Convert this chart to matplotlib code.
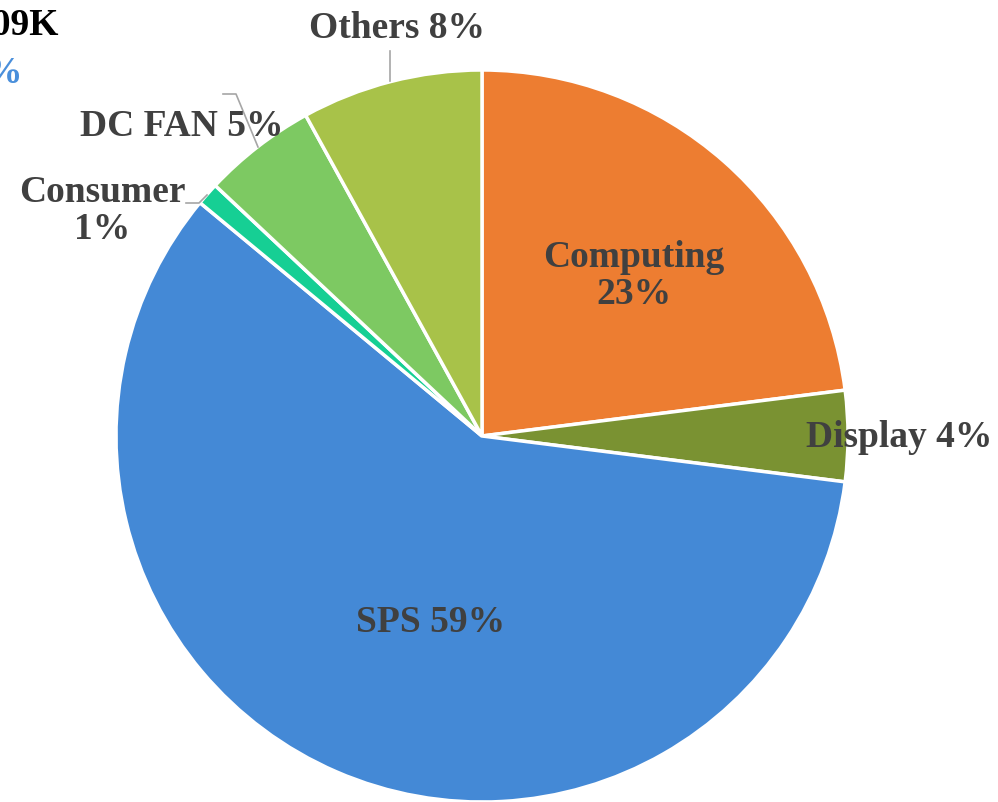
"""Revenue mix by application: pie chart."""
import matplotlib
import numpy as np

matplotlib.use('Agg')
import matplotlib.pyplot as plt

plt.rcParams['font.family'] = ['Liberation Serif', 'DejaVu Serif']

categories = ['Computing', 'Display', 'SPS', 'Consumer', 'DC FAN', 'Others']
shares = [23, 4, 59, 1, 5, 8]
colors = ['#ED7D31', '#7A9232', '#4489D6', '#16CF94', '#7DC962', '#A8C249']
labels = ['Computing\n23%', 'Display 4%', 'SPS 59%', 'Consumer\n1%', 'DC FAN 5%', 'Others 8%']

W, H = 998, 803
fig = plt.figure(figsize=(W / 100, H / 100), dpi=100)
ax = fig.add_axes([0, 0, 1, 1])

cx, cy, r = 482, H - 437, 366
ax.pie(shares, colors=colors, startangle=90, counterclock=False,
       center=(cx, cy), radius=r, frame=True,
       wedgeprops={'edgecolor': 'white', 'linewidth': 2.5})
ax.set_xlim(0, W)
ax.set_ylim(0, H)
ax.axis('off')

grey = '#404040'
fs = 27
# label centre x and baseline y of the first line (pixels from top-left)
label_pos = [(634, 267), (899, 447), (431, 632), (102, 202), (182, 136), (397, 38)]
line_gap = 37
for lab, (x, y) in zip(labels, label_pos):
    for i, line in enumerate(lab.split('\n')):
        ax.text(x, H - y - i * line_gap, line, ha='center', va='baseline',
                fontsize=fs, fontweight='bold', color=grey)

# leader lines
lc = '#A6A6A6'
ax.plot([223, 236, 258], [H - 95, H - 95, H - 148], color=lc, lw=1.2)
ax.plot([390, 390], [H - 52, H - 82], color=lc, lw=1.2)
ax.plot([186, 199, 207], [H - 204, H - 204, H - 196], color=lc, lw=1.2)

# header text, partly outside the canvas
ax.text(58, H - 35, 'Total 109K', ha='right', va='baseline', fontsize=fs,
        fontweight='bold', color='black')
ax.text(22, H - 83, '+12%', ha='right', va='baseline', fontsize=fs,
        fontweight='bold', color='#4A8FDB')

fig.savefig('out.png', dpi=100)
